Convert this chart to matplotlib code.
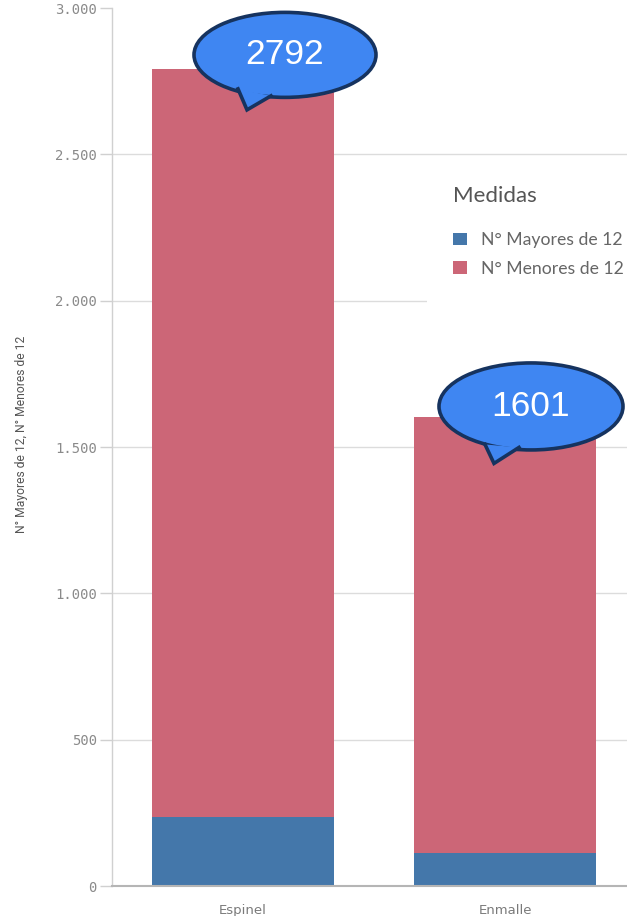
import matplotlib
matplotlib.use("Agg")
import matplotlib.pyplot as plt
import matplotlib.ticker as mtick
from matplotlib.patches import Ellipse, Polygon, Patch
from matplotlib.lines import Line2D
from matplotlib.transforms import IdentityTransform
import numpy as np

categories = ["Espinel", "Enmalle"]
mayores = [236, 113]
menores = [2556, 1488]
totals = [2792, 1601]
legend_labels = ["N° Mayores de 12", "N° Menores de 12"]
y_label = "N° Mayores de 12, N° Menores de 12"

blue = "#4477aa"
red = "#cc6677"
grey_txt = "#8a8a8a"

W, H = 627, 916
fig = plt.figure(figsize=(W / 100, H / 100), dpi=100)
# axes: left spine at x=112px, y=0 at 886px, y=3000 at 8px; right side runs off the figure
ax = fig.add_axes([112 / W, 30 / H, 524 / W, 878 / H])

x = np.arange(len(categories))
ax.bar(x, mayores, width=0.695, color=blue, zorder=3)
ax.bar(x, menores, width=0.695, bottom=mayores, color=red, zorder=3)

ax.set_xlim(-0.5, 1.5)
ax.set_ylim(0, 3000)
ax.set_yticks(np.arange(0, 3001, 500))
ax.yaxis.set_major_formatter(mtick.FuncFormatter(lambda v, p: f"{int(v):,}".replace(",", ".")))
ax.set_xticks(x)
ax.set_xticklabels(categories)

ax.yaxis.grid(True, color="#dcdcdc", linewidth=1.0, zorder=0)
ax.get_ygridlines()[-1].set_visible(False)
ax.get_ygridlines()[0].set_visible(False)
ax.set_axisbelow(True)

for s in ["top", "right"]:
    ax.spines[s].set_visible(False)
ax.spines["left"].set_color("#d0d0d0")
ax.spines["left"].set_linewidth(1.0)
ax.spines["bottom"].set_color("#b5b5b5")
ax.spines["bottom"].set_linewidth(1.5)
ax.spines["bottom"].set_zorder(4)

ax.tick_params(axis="y", length=9, width=1, color="#d0d0d0", pad=2,
               labelsize=10, labelcolor=grey_txt)
ax.tick_params(axis="x", length=0, pad=13, labelsize=9.5, labelcolor="#7a7a7a")
for t in ax.get_yticklabels():
    t.set_family("DejaVu Sans Mono")

ax.set_ylabel(y_label, fontsize=8.7, color="#555555", family="Roboto")
ax.yaxis.set_label_coords(-0.16, 0.515)

handles = [Patch(facecolor=blue), Patch(facecolor=red)]
leg = fig.legend(handles, legend_labels, title="Medidas", loc="upper left",
                 bbox_to_anchor=(427 / W, 1 - 160 / H), frameon=True,
                 facecolor="white", edgecolor="none", fancybox=False,
                 framealpha=1, alignment="left", fontsize=12.7, title_fontsize=16,
                 handlelength=0.75, handleheight=0.75, handletextpad=0.8,
                 labelspacing=0.72, borderpad=1.5, borderaxespad=0)
plt.setp(leg.get_texts(), color="#666666", family="Lato")
leg.get_title().set_color("#555555")
leg.get_title().set_family("Lato")
leg._legend_box.sep = 18.5

# speech-bubble callouts with totals, anchored to the top of each bar (offsets in pixels)
fig.canvas.draw()
bubble_fill = "#3f86f2"
bubble_edge = "#16335f"
offsets = [
    dict(c=(42, 14), tip=(4, -41), b1=(-5, -20), b2=(28, -27), w=182, h=85),
    dict(c=(26, 11), tip=(-11, -46), b1=(-20, -27), b2=(14, -30), w=184, h=87),
]
ident = IdentityTransform()
for i, tot in enumerate(totals):
    ax_px, ay_px = ax.transData.transform((x[i], tot))
    o = offsets[i]
    cx, cy = ax_px + o["c"][0], ay_px + o["c"][1]
    ell = Ellipse((cx, cy), o["w"], o["h"], transform=ident, facecolor=bubble_fill,
                  edgecolor=bubble_edge, linewidth=2.6, zorder=10)
    fig.add_artist(ell)
    tip = (ax_px + o["tip"][0], ay_px + o["tip"][1])
    b1 = (ax_px + o["b1"][0], ay_px + o["b1"][1])
    b2 = (ax_px + o["b2"][0], ay_px + o["b2"][1])
    tail = Polygon([b1, tip, b2], closed=True, transform=ident, facecolor=bubble_fill,
                   edgecolor="none", zorder=11)
    fig.add_artist(tail)
    fig.add_artist(Line2D([b1[0], tip[0], b2[0]], [b1[1], tip[1], b2[1]], transform=ident,
                          color=bubble_edge, linewidth=2.6, solid_joinstyle="miter", zorder=12))
    fig.text(cx, cy, str(tot), transform=ident, ha="center", va="center", fontsize=25.5,
             color="white", family="Liberation Sans", zorder=13)

fig.savefig("out.png", dpi=100)
